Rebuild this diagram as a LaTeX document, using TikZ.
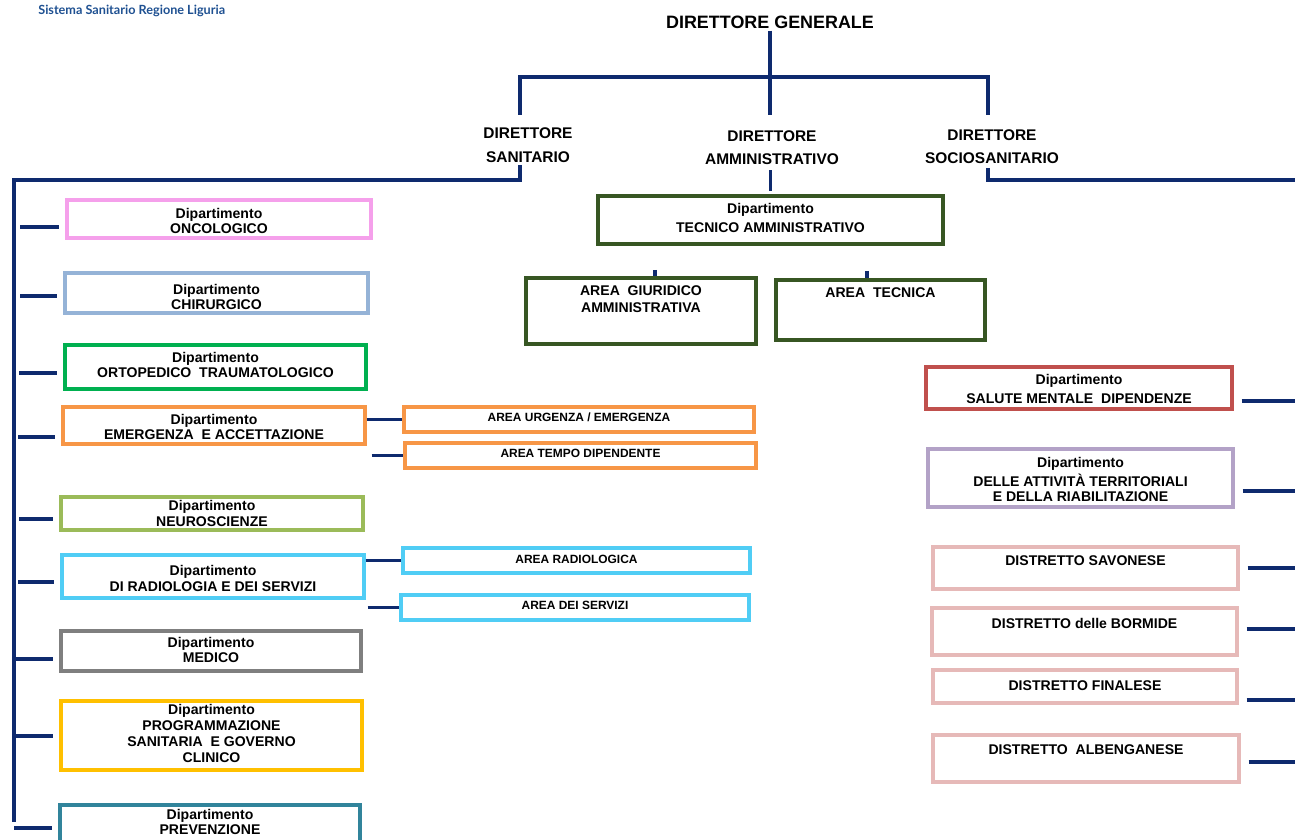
\documentclass[tikz,border=0pt]{standalone}
\usepackage{fontspec}
\setmainfont{Liberation Sans}
\newfontfamily\logofont{Lato}
\usetikzlibrary{math}
\definecolor{navy}{RGB}{14,42,110}
\definecolor{logoblue}{RGB}{30,80,145}
\definecolor{conco}{RGB}{245,160,235}
\definecolor{cchir}{RGB}{149,179,215}
\definecolor{corto}{RGB}{0,176,80}
\definecolor{cemer}{RGB}{247,150,70}
\definecolor{cneuro}{RGB}{155,187,89}
\definecolor{cradio}{RGB}{80,205,245}
\definecolor{cmedi}{RGB}{127,127,127}
\definecolor{cprog}{RGB}{255,192,0}
\definecolor{cprev}{RGB}{49,132,155}
\definecolor{ctecn}{RGB}{55,86,35}
\definecolor{csalu}{RGB}{192,80,77}
\definecolor{cterr}{RGB}{179,162,199}
\definecolor{cdist}{RGB}{230,185,184}
\tikzstyle{bus} = [draw=navy, line width=2pt]
\tikzstyle{box} = [draw, line width=1.9pt, inner sep=0mm]
\tikzstyle{lbl} = [align=center, inner sep=0mm, font=\bfseries\fontsize{8}{9}\selectfont]
\tikzstyle{area} = [align=center, inner sep=0mm, font=\bfseries\fontsize{6.8}{8}\selectfont]
\tikzstyle{head} = [align=center, inner sep=0mm, font=\bfseries\fontsize{8.8}{13.3}\selectfont]

\begin{document}
\begin{tikzpicture}[x=0.2mm, y=-0.2mm]
    \useasboundingbox (0,0) rectangle (1295,840);
    \clip (0,0) rectangle (1295,840);

    \node[anchor=west, inner sep=0mm, text=logoblue, font=\logofont\bfseries\fontsize{7.2}{8}\selectfont] (logo) at (38,11) {Sistema Sanitario Regione Liguria};

    \node[inner sep=0mm, font=\bfseries\fontsize{10.2}{12}\selectfont] (dg) at (770,22) {DIRETTORE GENERALE};
    \node[head] (dsan) at (528,145) {DIRETTORE\\SANITARIO};
    \node[head] (damm) at (772,147.5) {DIRETTORE\\AMMINISTRATIVO};
    \node[head] (dsoc) at (992,146.5) {DIRETTORE\\SOCIOSANITARIO};

    % boxes: name / x1 / y1 / x2 / y2 / colour / text y / text
    \foreach \n/\xa/\ya/\xb/\yb/\c/\ty/\t in {
        onco/67/200/371/238/conco/221/{Dipartimento\\ONCOLOGICO},
        chir/65/273/368/313/cchir/297/{Dipartimento\\CHIRURGICO},
        orto/65/345/366/389/corto/365/{Dipartimento\\ORTOPEDICO\ \ TRAUMATOLOGICO},
        emer/63/407/365/444/cemer/427/{Dipartimento\\EMERGENZA\ \ E ACCETTAZIONE},
        neuro/61/497/363/530/cneuro/513.5/{Dipartimento\\NEUROSCIENZE},
        radio/62/555/364/598/cradio/578.5/{Dipartimento\\DI RADIOLOGIA E DEI SERVIZI},
        medi/61/631/361/671/cmedi/650/{Dipartimento\\MEDICO},
        prog/61/701/362/770/cprog/733.5/{Dipartimento\\PROGRAMMAZIONE\\SANITARIA\ \ E GOVERNO\\CLINICO},
        prev/60/805/360/860/cprev/822/{Dipartimento\\PREVENZIONE},
        tecn/598/196/943/244/ctecn/218/{Dipartimento\\[2.3pt]TECNICO AMMINISTRATIVO},
        giur/526/278/756/344/ctecn/299.5/{AREA\ \ GIURIDICO\\[0.6pt]AMMINISTRATIVA},
        tecnica/776/280/985/340/ctecn/293/{AREA\ \ TECNICA},
        salu/926/367/1232/409/csalu/388.5/{Dipartimento\\[1.8pt]SALUTE MENTALE\ \ DIPENDENZE},
        terr/928/449/1233/507/cterr/479.5/{Dipartimento\\[1.8pt]DELLE ATTIVITÀ TERRITORIALI\\E DELLA RIABILITAZIONE},
        savo/933/547/1238/589/cdist/561/{DISTRETTO SAVONESE},
        borm/932/608/1237/655/cdist/623/{DISTRETTO delle BORMIDE},
        fina/933/670/1237/703/cdist/686/{DISTRETTO FINALESE},
        albe/933/735/1239/782/cdist/750/{DISTRETTO\ \ ALBENGANESE}} {
        \tikzmath{\cx=(\xa+\xb)/2; \cy=(\ya+\yb)/2; \w=(\xb-\xa)*0.2; \h=(\yb-\ya)*0.2;}
        \node[box, draw=\c, minimum width=\w mm, minimum height=\h mm] (\n) at (\cx,\cy) {};
        \node[lbl] (\n-t) at (\cx,\ty) {\t};
    }
    \foreach \n/\xa/\ya/\xb/\yb/\c/\ty/\t in {
        urg/404/407/754/432/cemer/417/{AREA URGENZA / EMERGENZA},
        temp/405/443/756/468/cemer/453/{AREA TEMPO DIPENDENTE},
        arad/403/548/750/573/cradio/559/{AREA RADIOLOGICA},
        aser/401/595/749/620/cradio/605/{AREA DEI SERVIZI}} {
        \tikzmath{\cx=(\xa+\xb)/2; \cy=(\ya+\yb)/2; \w=(\xb-\xa)*0.2; \h=(\yb-\ya)*0.2;}
        \node[box, draw=\c, minimum width=\w mm, minimum height=\h mm] (\n) at (\cx,\cy) {};
        \node[area] (\n-t) at (\cx,\ty) {\t};
    }

    % top of the tree
    \coordinate (gJ) at (770,77);
    \coordinate (sT) at (520,115);
    \coordinate (aT) at (770,115);
    \coordinate (oT) at (988,115);
    \draw[bus, shorten <=0.4mm] (dg.south) -- (gJ);
    \draw[bus] (sT) |- (gJ) -| (oT);
    \draw[bus] (gJ) -- (aT);

    % sanitario
    \coordinate (sB) at (520,165);
    \coordinate (lTop) at (14,180);
    \coordinate (lBot) at (14,822);
    \draw[bus] (sB) |- (lTop) -- (lBot);
    \foreach \n/\lx/\ty in {onco/20/227, chir/20/296, orto/19/373, emer/18/437, neuro/19/519,
                            radio/18/582, medi/14/659, prog/14/736, prev/14/828} {
        \coordinate (l\n) at (\lx,\ty);
        \draw[bus, shorten >=1.2mm] (l\n) -- (l\n -| \n.west);
    }

    % amministrativo
    \draw[bus, shorten <=1mm, shorten >=0.6mm] (tecn.north |- damm.south) -- (tecn.north);
    \coordinate (gT) at (655,270);
    \coordinate (tT) at (867,271);
    \draw[bus] (gT) -- (gT |- giur.north);
    \draw[bus] (tT) -- (tT |- tecnica.north);

    \draw[bus] (emer.east |- urg.west) -- (urg.west);
    \draw[bus, shorten <=1mm] (emer.east |- temp.west) -- (temp.west);
    \draw[bus] (radio.east |- arad.west) -- (arad.west);
    \draw[bus, shorten <=0.4mm] (radio.east |- aser.west) -- (aser.west);

    % sociosanitario
    \coordinate (oB) at (988,168);
    \coordinate (rTop) at (1300,180);
    \draw[bus] (oB) |- (rTop);
    \foreach \n/\ty in {salu/401, terr/491, savo/568, borm/629, fina/700, albe/762} {
        \coordinate (r\n) at (1300,\ty);
        \draw[bus, shorten <=1.6mm] (r\n -| \n.east) -- (r\n);
    }
\end{tikzpicture}
\end{document}
